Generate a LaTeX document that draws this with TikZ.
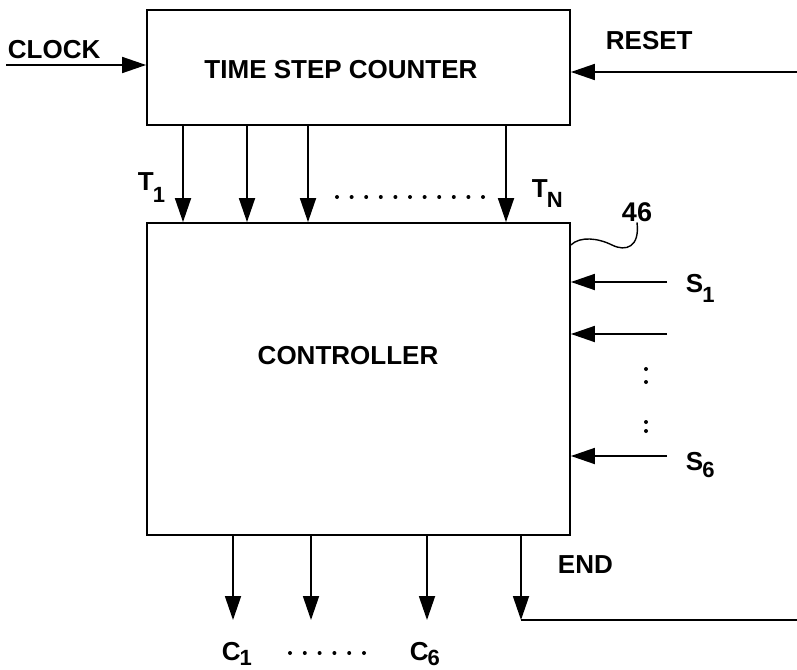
\documentclass[tikz,border=0pt]{standalone}
\usepackage{fontspec}
\setmainfont{Liberation Sans}
\usetikzlibrary{arrows.meta}
\newcommand{\lowsub}[2][-12pt]{\kern-1pt\raisebox{#1}{\fontsize{22}{22}\selectfont #2}}
\begin{document}
\begin{tikzpicture}[x=1pt,y=-1pt,line width=1.8pt,
  box/.style={draw,line width=1.8pt,inner sep=0pt},
  lbl/.style={font=\fontsize{26}{26}\selectfont\bfseries,inner sep=0pt},
  arr/.style={-{Triangle[length=24pt,width=16pt]}}]
\useasboundingbox (0,0) rectangle (797,669);
% boxes
\node[box,minimum width=423pt,minimum height=115pt] (tsc) at (358.5,67.5) {};
\node[lbl] (tsct) at (341,70) {TIME STEP COUNTER};
\node[box,minimum width=423pt,minimum height=312pt] (ctrl) at (358.5,379) {};
\node[lbl] (ctrlt) at (348,356) {CONTROLLER};
% clock and reset
\coordinate (clkin) at (6,65);
\draw[arr] (clkin) -- (clkin -| tsc.west);
\node[lbl,anchor=base west] (clk) at (7,59) {CLOCK};
\coordinate (rstin) at (797,72);
\draw[arr] (rstin) -- (rstin -| tsc.east);
\node[lbl,anchor=base west] (rst) at (605,50) {RESET};
% T lines
\foreach \x in {183,247,308,506}{
  \path (\x,0) coordinate (tx);
  \draw[arr] (tsc.south -| tx) -- (ctrl.north -| tx);
}
\node[lbl,anchor=base west] (t1) at (137,190) {T\lowsub{1}};
\node[lbl,anchor=base west] (tn) at (531,197) {T\lowsub[-10pt]{N}};
\foreach \i in {0,...,10}{\fill (337+14.6*\i,197) circle (2pt);}
% reference numeral
\node[lbl,font=\fontsize{27}{27}\selectfont\bfseries] (n46) at (637,212) {46};
\coordinate (sq) at (0,245);
\draw[line width=1.4pt] (ctrl.east |- sq) .. controls (580,236) and (598,238) .. (612,245)
  .. controls (626,252) and (640,247) .. (n46.south);
% S inputs
\foreach \y in {282,334,456}{
  \path (667,\y) coordinate (sx);
  \draw[arr] (sx) -- (ctrl.east |- sx);
}
\node[lbl,anchor=base west] (s1) at (685,292) {S\lowsub[-10pt]{1}};
\node[lbl,anchor=base west] (s6) at (685,470) {S\lowsub[-7pt]{6}};
\foreach \y in {369,382,422,431}{\fill (646,\y) circle (2pt);}
% C outputs
\foreach \x in {233,311,427}{
  \path (\x,620) coordinate (cx);
  \draw[arr] (ctrl.south -| cx) -- (cx);
}
\coordinate (endc) at (521,620);
\coordinate (endr) at (797,620);
\draw[arr] (ctrl.south -| endc) -- (endc);
\draw (endc) -- (endr);
\node[lbl,anchor=base west] (endl) at (557,573) {END};
\node[lbl,anchor=base west] (c1) at (221,660) {C\lowsub[-5pt]{1}};
\node[lbl,anchor=base west] (c6) at (409,660) {C\lowsub[-5pt]{6}};
\foreach \i in {0,...,5}{\fill (290+14.8*\i,653) circle (2pt);}
\end{tikzpicture}
\end{document}
